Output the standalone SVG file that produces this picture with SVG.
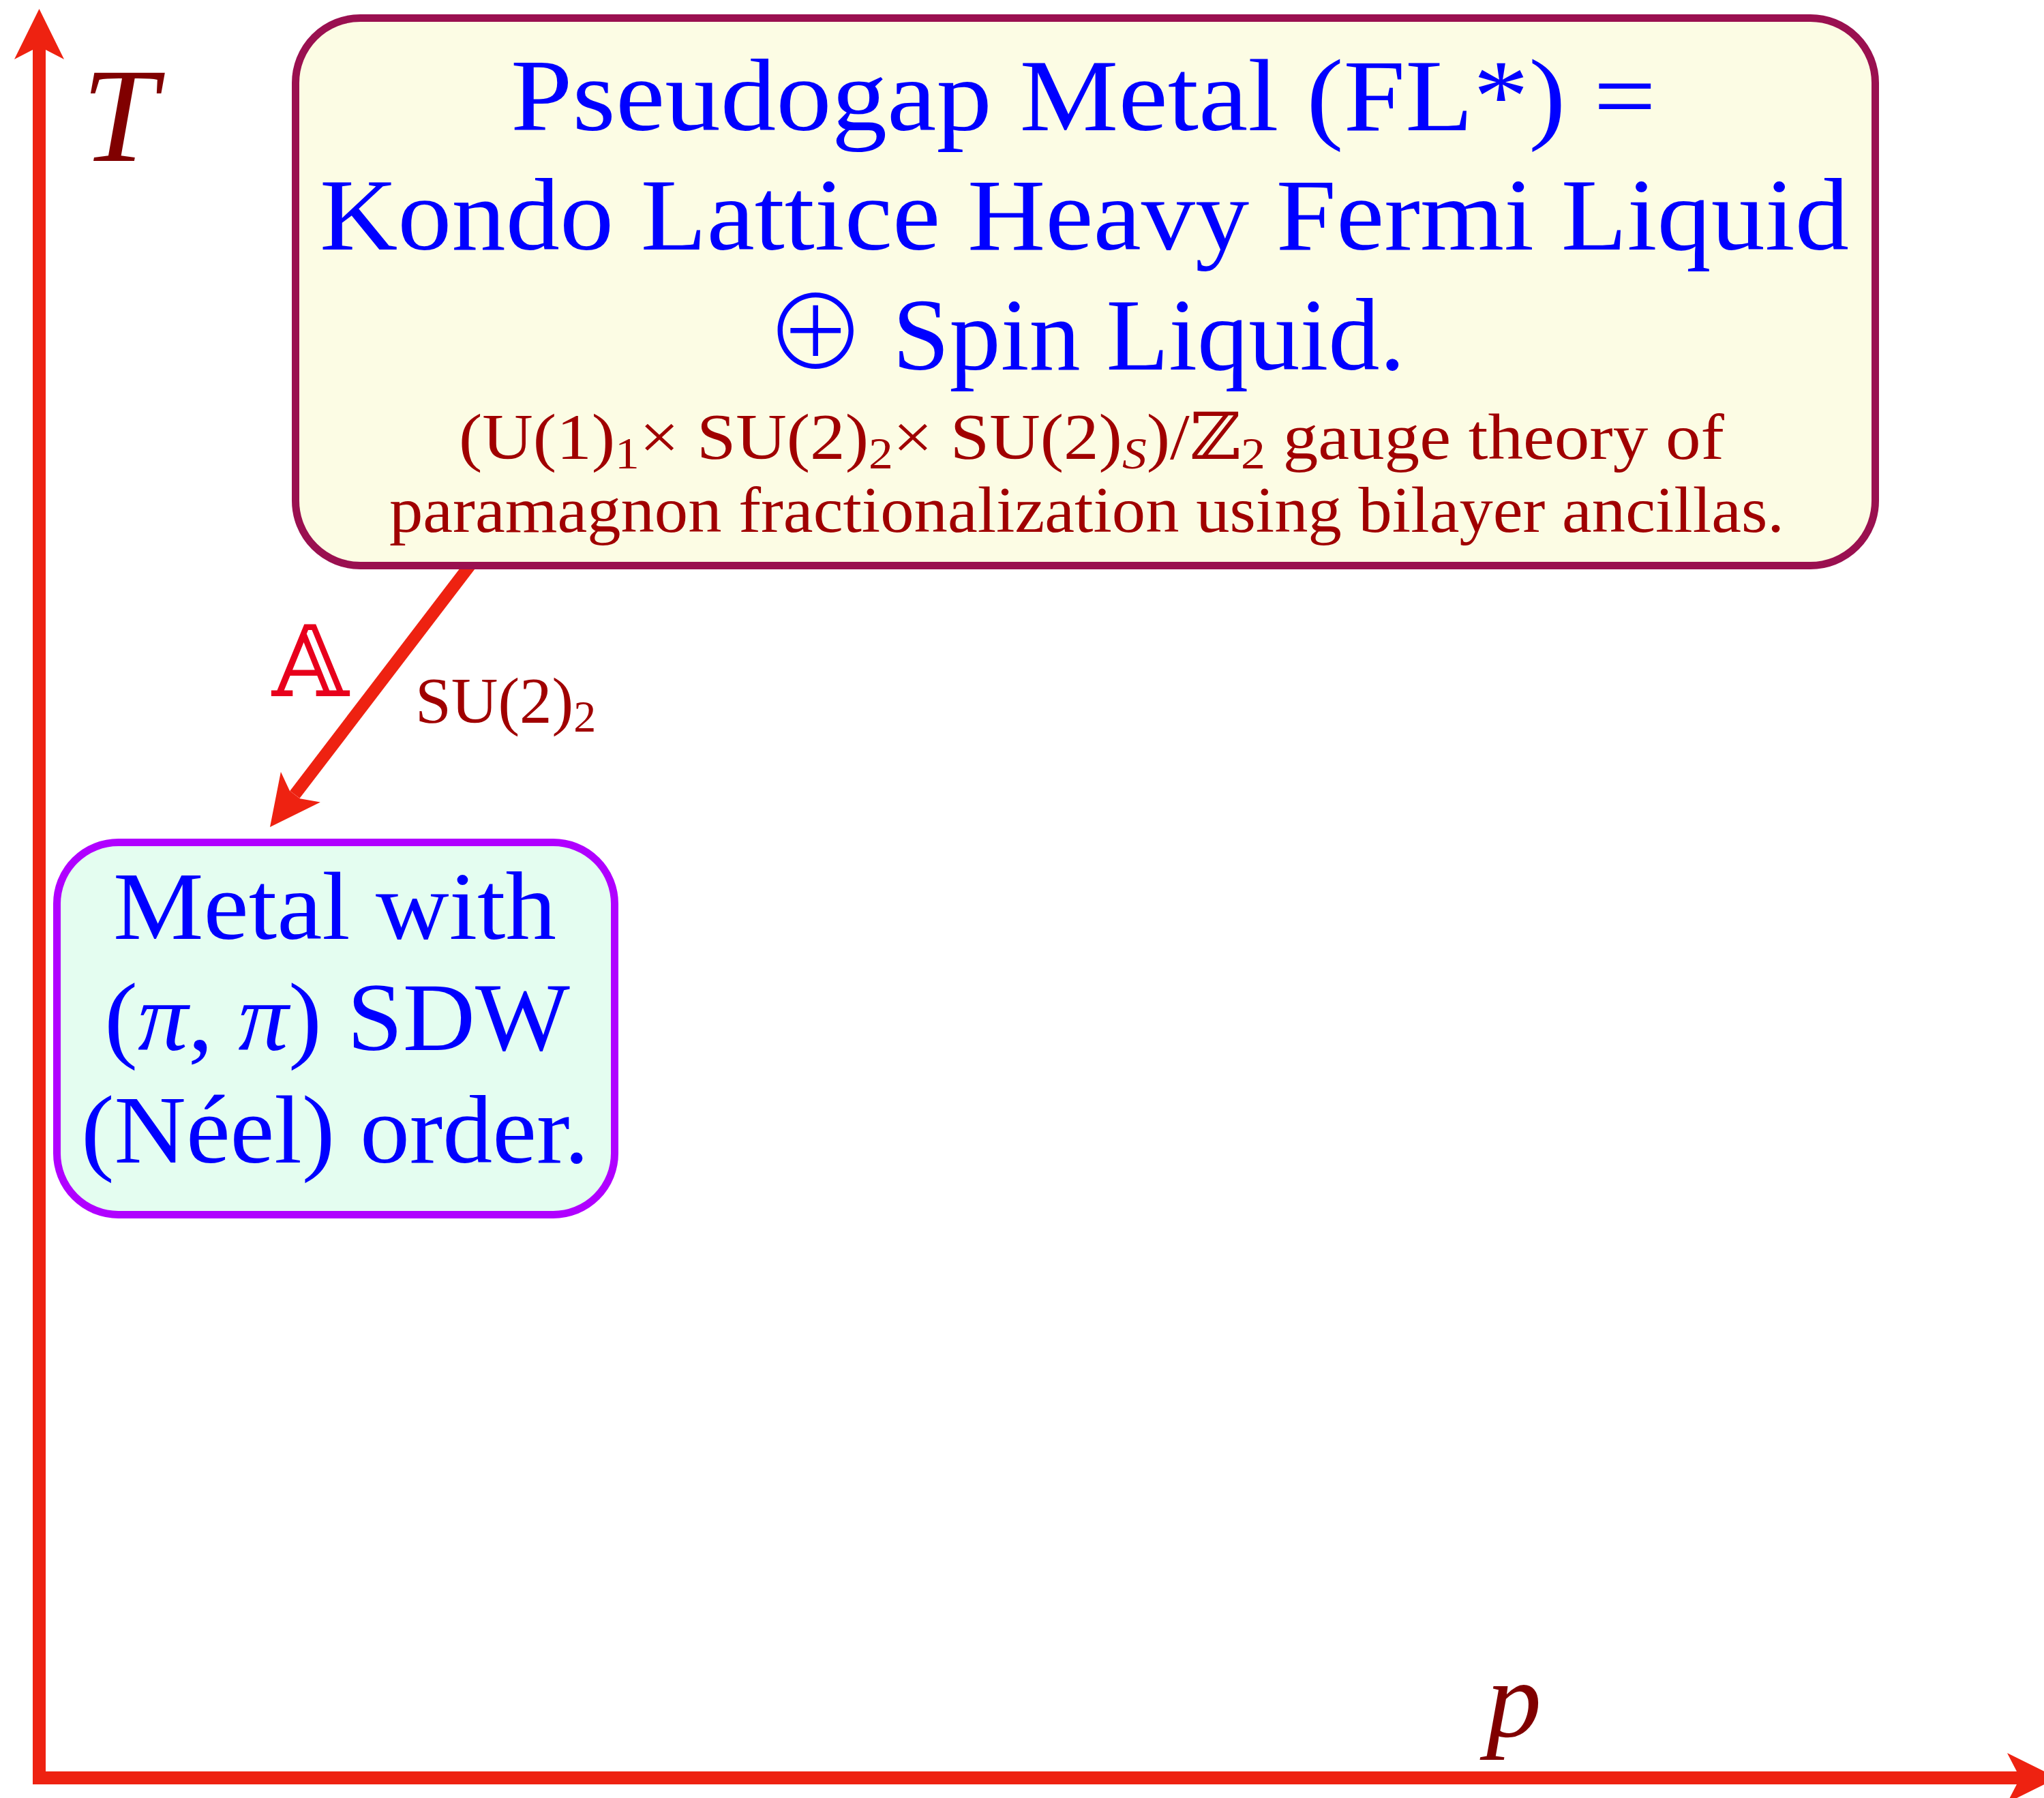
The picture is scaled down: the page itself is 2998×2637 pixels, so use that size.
<svg xmlns="http://www.w3.org/2000/svg" width="2998" height="2637" viewBox="0 0 2998 2637">
<style>
.axis{stroke:#ee2211;stroke-width:19;fill:none}
.conn{stroke:#ee2211;stroke-width:18;fill:none}
.main{font-family:"Liberation Serif","DejaVu Serif",serif;fill:#0000ff}
.sub{font-family:"Liberation Serif","DejaVu Serif",serif;fill:#a00000}
.lbl{font-family:"Liberation Serif","DejaVu Serif",serif;font-style:italic;fill:#800000}
.op{font-family:"Noto Sans CJK SC","DejaVu Sans",sans-serif;font-weight:300}
</style>
<defs>
<marker id="head" markerUnits="userSpaceOnUse" viewBox="-20 -40 85 80" markerWidth="85" markerHeight="80" refX="0" refY="0" orient="auto" overflow="visible">
<path d="M60,0 L-14,-36.5 L0,-9.5 L0,9.5 L-14,36.5 Z" fill="#ee2211"/>
</marker>
</defs>
<rect width="2998" height="2637" fill="#ffffff"/>
<g id="axes">
<line class="axis" x1="57.5" y1="2617" x2="57.5" y2="73" marker-end="url(#head)"/>
<line class="axis" x1="48" y1="2607.5" x2="2958" y2="2607.5" marker-end="url(#head)"/>
<text class="lbl" x="120" y="236" font-size="198">T</text>
<text class="lbl" x="2180" y="2547" font-size="162">p</text>
</g>
<g id="connectors">
<line class="conn" x1="697" y1="819" x2="432.4" y2="1165.4" marker-end="url(#head)"/>
<text x="399" y="1021" font-size="145" fill="#e8001c" font-family="DejaVu Serif,DejaVu Sans,serif">𝔸</text>
<text class="sub" x="609" y="1060" font-size="95">SU(2)<tspan font-size="66" dy="13">2</tspan></text>
</g>
<g id="node-fl">
<rect x="433.5" y="26.5" width="2317" height="803" rx="95" ry="95" fill="#fcfce4" stroke="#9a1050" stroke-width="11"/>
<text class="main" x="749" y="191" font-size="150" textLength="1680" lengthAdjust="spacingAndGlyphs">Pseudogap Metal (FL*) =</text>
<text class="main" x="469" y="366" font-size="150" textLength="2243" lengthAdjust="spacingAndGlyphs">Kondo Lattice Heavy Fermi Liquid</text>
<text class="main" x="1121" y="542" font-size="150" textLength="940" lengthAdjust="spacingAndGlyphs"><tspan class="op">⊕</tspan> Spin Liquid.</text>
<text class="sub" x="673" y="673" font-size="95" textLength="1856" lengthAdjust="spacingAndGlyphs">(U(1)<tspan font-size="66" dy="14">1</tspan><tspan dy="-14">× SU(2)</tspan><tspan font-size="66" dy="14">2</tspan><tspan dy="-14">× SU(2)</tspan><tspan font-size="66" dy="14" font-style="italic">S</tspan><tspan dy="-14">)/ℤ</tspan><tspan font-size="66" dy="14">2</tspan><tspan dy="-14"> gauge theory of</tspan></text>
<text class="sub" x="571" y="780" font-size="95" textLength="2046" lengthAdjust="spacingAndGlyphs">paramagnon fractionalization using bilayer ancillas.</text>
</g>
<g id="node-sdw">
<rect x="83.5" y="1235.5" width="818" height="546" rx="90" ry="90" fill="#e4fdf0" stroke="#b000ff" stroke-width="11"/>
<text class="main" x="166" y="1377" font-size="142" textLength="650" lengthAdjust="spacingAndGlyphs">Metal with</text>
<text class="main" x="153" y="1540" font-size="142" textLength="683" lengthAdjust="spacingAndGlyphs">(<tspan font-style="italic">π</tspan>, <tspan font-style="italic">π</tspan>) SDW</text>
<text class="main" x="119" y="1705" font-size="142" textLength="745" lengthAdjust="spacingAndGlyphs">(Néel) order.</text>
</g>
</svg>
